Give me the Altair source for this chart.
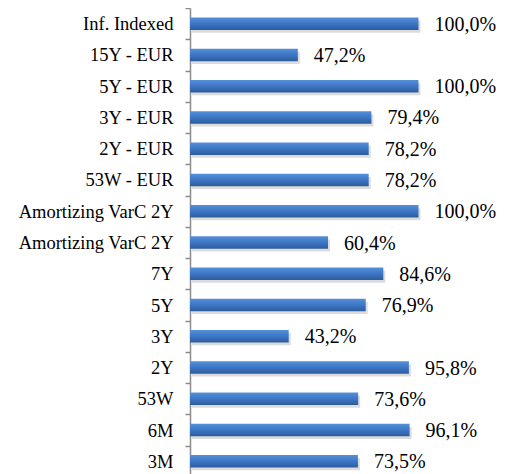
import json
import altair as alt
import pandas as pd

categories = [
    "Inf. Indexed", "15Y - EUR", "5Y - EUR", "3Y - EUR", "2Y - EUR",
    "53W - EUR", "Amortizing VarC 2Y", "Amortizing VarC 2Y", "7Y", "5Y",
    "3Y", "2Y", "53W", "6M", "3M",
]
values = [100.0, 47.2, 100.0, 79.4, 78.2, 78.2, 100.0, 60.4, 84.6, 76.9,
          43.2, 95.8, 73.6, 96.1, 73.5]

df = pd.DataFrame({
    "idx": list(range(len(categories))),
    "cat": categories,
    "val": values,
    "lab": [f"{v:.1f}".replace(".", ",") + "%" for v in values],
})

label_expr = json.dumps(categories) + "[datum.value]"
FONT = "'Liberation Serif', 'Times New Roman', Times, serif"

y_enc = alt.Y(
    "idx:N",
    sort=None,
    scale=alt.Scale(paddingInner=0, paddingOuter=0),
    axis=alt.Axis(
        title=None,
        labelExpr=label_expr,
        labelFont=FONT,
        labelFontSize=18.5,
        labelColor="#000000",
        labelPadding=12,
        domainColor="#8c8c8c",
        domainWidth=1.5,
        tickColor="#8c8c8c",
        tickWidth=1.5,
        tickSize=5,
        tickBand="extent",
        grid=False,
    ),
)
x_enc = alt.X("val:Q", scale=alt.Scale(domain=[0, 100]), axis=None)

base = alt.Chart(df)

shadow = base.mark_bar(size=12, color="#9a9a9a", opacity=0.35, yOffset=3, xOffset=2).encode(
    x=x_enc, y=y_enc
)

bars = base.mark_bar(
    size=12.5,
    color=alt.Gradient(
        gradient="linear",
        x1=0, x2=0, y1=0, y2=1,
        stops=[
            alt.GradientStop(color="#5590da", offset=0),
            alt.GradientStop(color="#3d76c4", offset=0.5),
            alt.GradientStop(color="#2c5c9e", offset=1),
        ],
    ),
).encode(x=x_enc, y=y_enc)

text = base.mark_text(
    align="left", baseline="middle", dx=16, dy=1,
    font=FONT, fontSize=20, color="#000000",
).encode(x=x_enc, y=y_enc, text="lab:N")

chart = (
    alt.layer(shadow, bars, text)
    .properties(
        width=228.5,
        height=469,
        autosize=alt.AutoSizeParams(type="none"),
        padding={"left": 182, "top": 0, "right": 78, "bottom": 0},
    )
    .configure_view(stroke=None)
)

chart.save("out.html", embed_options={"renderer": "svg", "actions": False})
